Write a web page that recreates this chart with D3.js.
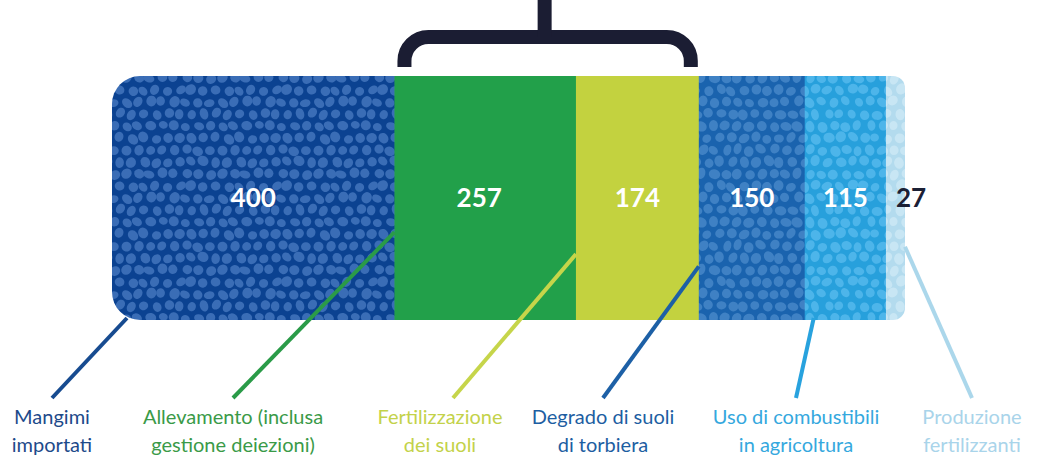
<!DOCTYPE html>
<html>
<head>
<meta charset="utf-8">
<script src="https://cdn.jsdelivr.net/npm/d3@7"></script>
<style>
  html, body { margin: 0; padding: 0; background: #ffffff; }
  svg { display: block; }
</style>
</head>
<body>
<div id="chart"></div>
<script>
// ---- data ----
const categories = [
  "Mangimi importati",
  "Allevamento (inclusa gestione deiezioni)",
  "Fertilizzazione dei suoli",
  "Degrado di suoli di torbiera",
  "Uso di combustibili in agricoltura",
  "Produzione fertilizzanti"
];
const values = [400, 257, 174, 150, 115, 27];
const labelLines = [
  ["Mangimi", "importati"],
  ["Allevamento (inclusa", "gestione deiezioni)"],
  ["Fertilizzazione", "dei suoli"],
  ["Degrado di suoli", "di torbiera"],
  ["Uso di combustibili", "in agricoltura"],
  ["Produzione", "fertilizzanti"]
];
const bracketGroup = [1, 2]; // indices of segments grouped by the bracket

// ---- styles ----
const fills      = ["#0b4291", "#22a04a", "#c3d23f", "#1a63ae", "#27a0dc", "#b3dbee"];
const blobFills  = ["#3a6db6", null,      null,      "#3f81c4", "#4db5ea", "#c8e6f4"];
const labelColors= ["#1d4a8a", "#3a9a48", "#c3d24a", "#1d5ea2", "#35a8de", "#a9d4ea"];
const lineColors = ["#174b90", "#2a9b48", "#c6d54a", "#1d60a6", "#28a2de", "#abd7eb"];
const numColors  = ["#ffffff", "#ffffff", "#ffffff", "#ffffff", "#ffffff", "#1b2035"];
const dark = "#1b1d33";

// ---- layout ----
const W = 1038, H = 461;
const barTop = 76, barBottom = 320;
const labelCenters = [52, 233, 440, 603, 796, 972];
// leader anchor: which edge of segment (0=x0,1=x1), pixel offset, y fraction of bar
const leaderAnchors = [
  {edge: 0, dx: 15, fy: 1.0},
  {edge: 0, dx: 0, fy: 0.64},
  {edge: 0, dx: 0, fy: 0.73},
  {edge: 0, dx: 0, fy: 0.78},
  {edge: 0, dx: 9, fy: 1.0},
  {edge: 1, dx: 0, fy: 0.70}
];

const total = d3.sum(values);
const x = d3.scaleLinear().domain([0, total]).range([112, 905]);
const cum = d3.cumsum(values);
const segs = values.map((v, i) => ({
  v, i,
  x0: x(cum[i] - v),
  x1: x(cum[i])
}));

const svg = d3.select("#chart").append("svg")
  .attr("width", W).attr("height", H);

const defs = svg.append("defs");

// blob texture patterns (decorative)
const rng = d3.randomLcg(0.4217);
const tile = 96, step = 12;
blobFills.forEach((bf, i) => {
  if (!bf) return;
  const p = defs.append("pattern")
    .attr("id", "pat" + i)
    .attr("patternUnits", "userSpaceOnUse")
    .attr("width", tile).attr("height", tile);
  p.append("rect").attr("width", tile).attr("height", tile).attr("fill", fills[i]);
  const blobs = [];
  for (let gy = 0; gy < tile / step; gy++) {
    for (let gx = 0; gx < tile / step; gx++) {
      blobs.push({
        cx: gx * step + step / 2 + (gy % 2 ? step / 2 : 0) + (rng() - 0.5) * 3,
        cy: gy * step + step / 2 + (rng() - 0.5) * 3,
        rx: 4.4 + rng() * 1.4,
        ry: 3.8 + rng() * 1.3,
        a: rng() * 180
      });
    }
  }
  [-tile, 0, tile].forEach(ox => [-tile, 0, tile].forEach(oy => {
    blobs.forEach(b => {
      p.append("ellipse")
        .attr("cx", b.cx + ox).attr("cy", b.cy + oy)
        .attr("rx", b.rx).attr("ry", b.ry)
        .attr("transform", `rotate(${b.a},${b.cx + ox},${b.cy + oy})`)
        .attr("fill", bf);
    });
  }));
});

// bar clip: big radius on left, small on right
const L = x(0), R = x(total), rl = 28, rr = 12;
const barPath = d3.path();
barPath.moveTo(L + rl, barTop);
barPath.lineTo(R - rr, barTop);
barPath.arcTo(R, barTop, R, barTop + rr, rr);
barPath.lineTo(R, barBottom - rr);
barPath.arcTo(R, barBottom, R - rr, barBottom, rr);
barPath.lineTo(L + rl, barBottom);
barPath.arcTo(L, barBottom, L, barBottom - rl, rl);
barPath.lineTo(L, barTop + rl);
barPath.arcTo(L, barTop, L + rl, barTop, rl);
barPath.closePath();
defs.append("clipPath").attr("id", "barclip")
  .append("path").attr("d", barPath.toString());

const bar = svg.append("g").attr("clip-path", "url(#barclip)");
bar.selectAll("rect.seg").data(segs).join("rect")
  .attr("class", "seg")
  .attr("x", d => d.x0)
  .attr("y", barTop)
  .attr("width", d => d.x1 - d.x0 + 0.5)
  .attr("height", barBottom - barTop)
  .attr("fill", d => blobFills[d.i] ? `url(#pat${d.i})` : fills[d.i]);

// bracket above the grouped segments
const bx0 = segs[bracketGroup[0]].x0 + 10;
const bx1 = segs[bracketGroup[bracketGroup.length - 1]].x1 - 8;
const by = 37, legEnd = 67, br = 24;
const bp = d3.path();
bp.moveTo(bx0, legEnd);
bp.lineTo(bx0, by + br);
bp.arcTo(bx0, by, bx0 + br, by, br);
bp.lineTo(bx1 - br, by);
bp.arcTo(bx1, by, bx1, by + br, br);
bp.lineTo(bx1, legEnd);
svg.append("path").attr("d", bp.toString())
  .attr("fill", "none").attr("stroke", dark).attr("stroke-width", 14);
const bmid = (bx0 + bx1) / 2 - 3;
svg.append("line")
  .attr("x1", bmid).attr("x2", bmid).attr("y1", 0).attr("y2", by)
  .attr("stroke", dark).attr("stroke-width", 14);

// value labels
svg.selectAll("text.val").data(segs).join("text")
  .attr("class", "val")
  .attr("x", d => d.i === values.length - 1 ? d.x0 + 10 : (d.x0 + d.x1) / 2 - (d.i === 1 ? 6 : 0))
  .attr("y", (barTop + barBottom) / 2 + 9)
  .attr("text-anchor", d => d.i === values.length - 1 ? "start" : "middle")
  .attr("font-family", "Lato, 'Open Sans', sans-serif")
  .attr("font-weight", 700)
  .attr("font-size", 26)
  .attr("fill", d => numColors[d.i])
  .text(d => d.v);

// leader lines
const leaderEndY = 398;
svg.selectAll("line.leader").data(segs).join("line")
  .attr("class", "leader")
  .attr("x1", d => (leaderAnchors[d.i].edge ? d.x1 : d.x0) + leaderAnchors[d.i].dx)
  .attr("y1", d => barTop + (barBottom - barTop) * leaderAnchors[d.i].fy - (leaderAnchors[d.i].fy === 1 ? 2 : 0))
  .attr("x2", d => labelCenters[d.i] + (d.i === 2 ? 13 : 0))
  .attr("y2", leaderEndY)
  .attr("stroke", d => lineColors[d.i])
  .attr("stroke-width", 4)
  .attr("stroke-linecap", "butt");

// category labels
const lab = svg.selectAll("text.cat").data(segs).join("text")
  .attr("class", "cat")
  .attr("text-anchor", "middle")
  .attr("font-family", "Lato, 'Open Sans', sans-serif")
  .attr("font-size", 20)
  .attr("fill", d => labelColors[d.i]);
lab.each(function(d) {
  const t = d3.select(this);
  labelLines[d.i].forEach((ln, k) => {
    t.append("tspan")
      .attr("x", labelCenters[d.i])
      .attr("y", 424 + k * 28)
      .text(ln);
  });
});
lab.append("title").text(d => categories[d.i]);
</script>
</body>
</html>
